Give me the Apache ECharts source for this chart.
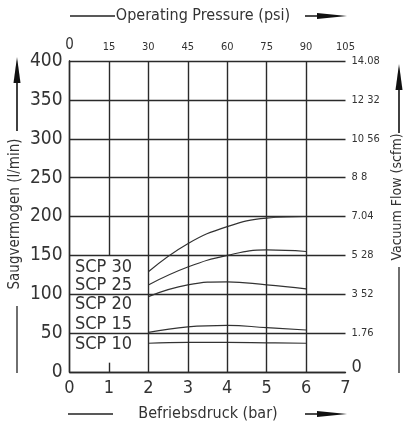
<!DOCTYPE html>
<html><head><meta charset="utf-8">
<script src="https://cdn.jsdelivr.net/npm/echarts@6/dist/echarts.min.js"></script>
<style>html,body{margin:0;padding:0;background:#fff}#c{width:404px;height:424px}</style>
</head><body><div id="c"></div>
<script>
// ---- data ----
var pressureBar = [2, 3, 4, 5, 6];
var scp30 = [129, 165, 187, 198, 200];
var scp25 = [112, 135, 150, 157, 155];
var scp20 = [97, 112, 116, 112, 107];
var scp15 = [51, 58, 60, 57, 54];
var scp10 = [37, 38, 38, 37.5, 37];
var seriesNames = ['SCP 30', 'SCP 25', 'SCP 20', 'SCP 15', 'SCP 10'];
var labelY = [134, 111, 87, 61, 36];
var psiTicks = ['0', '15', '30', '45', '60', '75', '90', '105'];
var scfmTicks = ['0', '1.76', '3 52', '5 28', '7.04', '8 8', '10 56', '12 32', '14.08'];
var fullVerticals = [2, 3, 4, 5, 6];

var FONT = '"DejaVu Sans Condensed", "DejaVu Sans", sans-serif';
var INK = '#2a2a2a';
var chart = echarts.init(document.getElementById('c'));

function pairs(vals) { return pressureBar.map(function (x, i) { return [x, vals[i]]; }); }
var curves = [scp30, scp25, scp20, scp15, scp10];

var gridLines = [];
fullVerticals.forEach(function (x) { gridLines.push([{ coord: [x, 0] }, { coord: [x, 400] }]); });
gridLines.push([{ coord: [1, 150] }, { coord: [1, 400] }]);
gridLines.push([{ coord: [1, 0] }, { coord: [1, 12] }]);

var series = curves.map(function (c, i) {
  return {
    name: seriesNames[i], type: 'line', data: pairs(c), smooth: 0.45,
    symbol: 'none', lineStyle: { color: '#333', width: 1.2 }, z: 3
  };
});
series.push({
  type: 'line', data: [], silent: true,
  markLine: {
    silent: true, symbol: ['none', 'none'], label: { show: false },
    lineStyle: { color: INK, width: 1.4, type: 'solid' },
    data: gridLines, animation: false
  }
});

chart.setOption({
  animation: false,
  grid: { left: 69.5, right: 58.5, top: 61, bottom: 52, containLabel: false },
  xAxis: [{
    type: 'value', min: 0, max: 7, interval: 1, position: 'bottom',
    axisLine: { show: true, lineStyle: { color: INK, width: 1.4 } },
    axisTick: { show: false }, splitLine: { show: false },
    axisLabel: { color: '#333', fontSize: 18, fontFamily: FONT, margin: 7 }
  }, {
    type: 'value', min: 0, max: 105, interval: 15, position: 'top',
    axisLine: { show: false }, axisTick: { show: false }, splitLine: { show: false },
    axisLabel: {
      color: '#333', fontSize: 11, fontFamily: FONT, margin: 8,
      formatter: function (v) { var s = psiTicks[Math.round(v / 15)]; return v === 0 ? '{b|' + s + '}' : s; },
      rich: { b: { fontSize: 15, fontFamily: FONT, color: '#333' } }
    }
  }],
  yAxis: [{
    type: 'value', min: 0, max: 400, interval: 50, position: 'left',
    axisLine: { show: true, lineStyle: { color: INK, width: 1.4 } },
    axisTick: { show: false },
    splitLine: { show: true, lineStyle: { color: INK, width: 1.4 } },
    axisLabel: { color: '#333', fontSize: 19, fontFamily: FONT, margin: 7 }
  }, {
    type: 'value', min: 0, max: 14.08, interval: 1.76, position: 'right',
    axisLine: { show: true, lineStyle: { color: INK, width: 1.4 } },
    axisTick: { show: false }, splitLine: { show: false },
    axisLabel: {
      color: '#333', fontSize: 11, fontFamily: FONT, margin: 6,
      formatter: function (v) { var s = scfmTicks[Math.round(v / 1.76)]; return v === 0 ? '{b|' + s + '}' : s; },
      rich: { b: { fontSize: 18, fontFamily: FONT, color: '#333', padding: [-10, 0, 0, 0] } }
    }
  }],
  series: series
});

// graphic: labels, axis titles, arrows
var g = [];
seriesNames.forEach(function (n, i) {
  var p = chart.convertToPixel({ xAxisIndex: 0, yAxisIndex: 0 }, [0.14, labelY[i]]);
  g.push({ type: 'text', x: p[0], y: p[1], style: { text: n, font: '18px ' + FONT, fill: '#333', textVerticalAlign: 'middle' }, z: 10 });
});
function hArrow(x0, x1, y) {
  g.push({ type: 'line', shape: { x1: x0, y1: y, x2: x1 - 20, y2: y }, style: { stroke: '#111', lineWidth: 1.5 } });
  g.push({ type: 'polygon', shape: { points: [[x1 - 30, y - 3], [x1, y], [x1 - 30, y + 3]] }, style: { fill: '#111' } });
}
function vArrow(x, y0, y1) {
  g.push({ type: 'line', shape: { x1: x, y1: y0, x2: x, y2: y1 + 20 }, style: { stroke: '#111', lineWidth: 1.6 } });
  g.push({ type: 'polygon', shape: { points: [[x - 3.5, y1 + 26], [x, y1], [x + 3.5, y1 + 26]] }, style: { fill: '#111' } });
}
function seg(x1, y1, x2, y2) { g.push({ type: 'line', shape: { x1: x1, y1: y1, x2: x2, y2: y2 }, style: { stroke: '#222', lineWidth: 1.3 } }); }

// top title
g.push({ type: 'text', x: 203, y: 16, style: { text: 'Operating Pressure (psi)', font: '16px ' + FONT, fill: '#333', textAlign: 'center', textVerticalAlign: 'middle' } });
seg(70, 16, 115, 16);
hArrow(305, 347, 16);
// bottom title
g.push({ type: 'text', x: 208, y: 414, style: { text: 'Befriebsdruck (bar)', font: '16px ' + FONT, fill: '#333', textAlign: 'center', textVerticalAlign: 'middle' } });
seg(68, 414, 113, 414);
hArrow(305, 347, 414);
// left title
g.push({ type: 'text', x: 15, y: 214, rotation: Math.PI / 2, style: { text: 'Saugvermogen (l/min)', font: '15px ' + FONT, fill: '#333', textAlign: 'center', textVerticalAlign: 'middle' } });
vArrow(17, 131, 57);
seg(17, 306, 17, 373);
// right title
g.push({ type: 'text', x: 397, y: 197, rotation: Math.PI / 2, style: { text: 'Vacuum Flow (scfm)', font: '14px ' + FONT, fill: '#333', textAlign: 'center', textVerticalAlign: 'middle' } });
vArrow(399, 133, 64);
seg(399, 267, 399, 373);

chart.setOption({ graphic: g });
</script></body></html>
